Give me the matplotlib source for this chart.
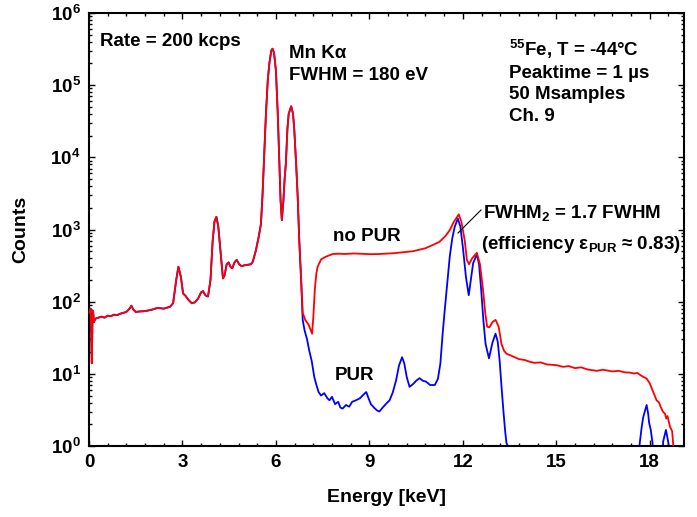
import numpy as np
import matplotlib
matplotlib.use("Agg")
import matplotlib.pyplot as plt
from matplotlib.ticker import MultipleLocator, FixedLocator, NullFormatter, LogFormatterSciNotation
from matplotlib.lines import Line2D

plt.rcParams['font.family'] = ['Liberation Sans', 'DejaVu Sans']
plt.rcParams['font.weight'] = 'bold'
plt.rcParams['mathtext.fontset'] = 'custom'
plt.rcParams['mathtext.rm'] = 'Liberation Sans:bold'
plt.rcParams['mathtext.bf'] = 'Liberation Sans:bold'
plt.rcParams['mathtext.it'] = 'Liberation Sans:bold'
plt.rcParams['mathtext.default'] = 'bf'

# ---- data: shared low-energy part (both spectra identical below ~6.8 keV)
energy_low = [0.03, 0.05, 0.07, 0.09, 0.11, 0.13, 0.16, 0.2, 0.3, 0.4, 0.5, 0.6, 0.7,
              0.8, 0.9, 1.0, 1.1, 1.2, 1.3, 1.36, 1.42, 1.5, 1.6, 1.8, 2.0, 2.2, 2.4,
              2.6, 2.7, 2.8, 2.87, 2.95, 3.02, 3.1, 3.2, 3.3, 3.4, 3.5, 3.6, 3.66,
              3.74, 3.82, 3.9, 3.97, 4.03, 4.09, 4.15, 4.22, 4.3, 4.35, 4.42, 4.48,
              4.55, 4.6, 4.67, 4.74, 4.82, 4.9, 5.0, 5.1, 5.2, 5.26, 5.36, 5.45,
              5.52, 5.57, 5.63, 5.68, 5.74, 5.79, 5.85, 5.89, 5.94, 6.0, 6.06, 6.11,
              6.15, 6.19, 6.24, 6.28, 6.32, 6.37, 6.41, 6.49, 6.55, 6.59, 6.65,
              6.70, 6.75, 6.81]
counts_low = [70, 80, 40, 14, 50, 75, 52, 58, 60, 62, 60, 64, 63,
              66, 65, 68, 70, 72, 80, 88, 78, 72, 73, 74, 77, 82, 80,
              85, 95, 200, 305, 220, 130, 120, 105, 95, 98, 110, 135, 140,
              122, 118, 200, 700, 1300, 1500, 1100, 500, 210, 230, 330, 350,
              300, 290, 350, 380, 330, 310, 320, 325, 330, 360, 520, 800,
              1200, 3000, 12000, 40000, 120000, 200000, 300000, 320000, 280000,
              160000, 40000, 8300, 2500, 1350, 2500, 5000, 8300, 25000, 40000,
              51000, 40000, 24000, 8000, 2800, 700, 200]

# no PUR tail (red)
energy_nopur_tail = [6.86, 6.95, 7.05, 7.12, 7.16, 7.2, 7.25, 7.3, 7.34, 7.45, 7.6,
                     7.82, 8.0, 8.2, 8.5, 8.8, 9.0, 9.3, 9.6, 9.8, 10.1, 10.4, 10.6,
                     10.8, 11.0, 11.25, 11.45, 11.58, 11.7, 11.87, 11.95, 12.06,
                     12.13, 12.2, 12.3, 12.45, 12.55, 12.65, 12.72, 12.78, 12.85,
                     12.95, 13.05, 13.15, 13.24, 13.32, 13.4, 13.6, 13.8, 14.0,
                     14.15, 14.3, 14.5, 14.7, 15.0, 15.22, 15.4, 15.6, 15.8, 16.0,
                     16.3, 16.5, 16.8, 17.0, 17.2, 17.36, 17.5, 17.6, 17.7, 17.79,
                     17.9, 18.0, 18.1, 18.22, 18.3, 18.35, 18.42, 18.49, 18.53,
                     18.57, 18.65, 18.72, 18.75, 18.8]
counts_nopur_tail = [70, 55, 48, 40, 36, 60, 150, 250, 305, 385, 420,
                     457, 462, 458, 465, 460, 455, 457, 465, 470, 485, 500, 525,
                     550, 600, 675, 820, 980, 1250, 1620, 1300, 710,
                     380, 330, 400, 475, 330, 145, 70, 45, 44,
                     52, 56, 45, 26, 21, 19, 17.5, 16, 15.5,
                     14.7, 14.2, 14.4, 13.5, 13.2, 12.5, 12.8, 12.0, 12.3, 11.5,
                     11.0, 11.4, 10.8, 11.0, 10.5, 10.4, 10.1, 10.3, 9.6, 9.1,
                     8.6, 7.4, 5.8, 4.3, 4.0, 3.5, 3.0, 2.8, 2.4,
                     2.6, 1.85, 1.6, 1.1, 0.3]

# PUR tail (blue)
energy_pur_tail = [6.86, 6.92, 7.0, 7.07, 7.15, 7.23, 7.3, 7.37, 7.45, 7.55, 7.65,
                   7.72, 7.8, 7.9, 8.0, 8.07, 8.14, 8.25, 8.35, 8.45, 8.57, 8.7,
                   8.8, 8.9, 8.98, 9.05, 9.15, 9.25, 9.32, 9.45, 9.55, 9.65, 9.75,
                   9.86, 9.95, 10.05, 10.12, 10.2, 10.29, 10.4, 10.5, 10.61, 10.72,
                   10.82, 10.95, 11.1, 11.2, 11.28, 11.35, 11.41, 11.5, 11.58,
                   11.66, 11.74, 11.84, 11.92, 12.0, 12.1, 12.19, 12.27, 12.33,
                   12.45, 12.52, 12.59, 12.66, 12.73, 12.84, 12.95, 13.05, 13.12,
                   13.18, 13.25, 13.31, 13.36, 13.4, 13.45, 13.55, 13.58, 17.6,
                   17.68, 17.74, 17.79, 17.84, 17.9, 17.95, 17.98, 18.03, 18.09,
                   18.12, 18.4, 18.43, 18.52, 18.6, 18.63]
counts_pur_tail = [56, 40, 30, 21, 15, 9.1, 7.0, 5.6, 5.0, 5.4, 4.6,
                   4.3, 4.8, 3.8, 4.1, 3.4, 3.3, 3.7, 3.5, 4.1, 4.3, 4.6,
                   5.1, 5.6, 4.5, 3.8, 3.4, 3.1, 3.0, 3.5, 3.9, 4.3, 5.5,
                   8.2, 13, 17, 14, 9, 6.6, 7.2, 8.0, 8.7, 8.0,
                   7.8, 7.0, 7.0, 8.5, 14, 35, 69, 180, 420,
                   750, 1090, 1420, 1100, 575, 220, 123, 220, 340,
                   455, 330, 145, 55, 26, 16.4, 27, 36, 28,
                   15.5, 6, 2.8, 1.6, 1.1, 1.0, 1.0, 0.3, 0.3,
                   1.1, 1.8, 2.5, 3.0, 3.7, 2.8, 2.1, 1.7, 1.1,
                   0.3, 0.3, 1.15, 1.67, 1.1, 0.3]

energy_nopur = energy_low + energy_nopur_tail
counts_nopur = counts_low + counts_nopur_tail
energy_pur = energy_low + energy_pur_tail
counts_pur = counts_low + counts_pur_tail

y_major = [1e0, 1e1, 1e2, 1e3, 1e4, 1e5, 1e6]

W, H = 697, 517
fig = plt.figure(figsize=(W/100, H/100), dpi=100)
L, R, T, B = 89, 684, 13, 446
ax = fig.add_axes([L/W, 1 - B/H, (R-L)/W, (B-T)/H])

ax.plot(energy_pur, counts_pur, color='#0000ff', lw=1.3, zorder=2)
ax.plot(energy_nopur, counts_nopur, color='#ff0000', lw=1.3, zorder=3)

ax.set_yscale('log')
ax.set_xlim(0, 19.1)
ax.set_ylim(1, 1e6)
ax.xaxis.set_major_locator(MultipleLocator(3))
ax.xaxis.set_minor_locator(MultipleLocator(0.6))
ax.yaxis.set_major_locator(FixedLocator(y_major))
ax.yaxis.set_major_formatter(LogFormatterSciNotation())
minor = [m * d for d in y_major[:-1] for m in range(2, 10)]
ax.yaxis.set_minor_locator(FixedLocator(minor))
ax.yaxis.set_minor_formatter(NullFormatter())
ax.tick_params(which='both', direction='in', top=True, right=True, width=1.0)
ax.tick_params(which='major', length=4, labelsize=13.5, pad=6)
ax.tick_params(which='minor', length=2.5)
for lbl in ax.get_xticklabels() + ax.get_yticklabels():
    lbl.set_fontweight('bold')
for sp in ax.spines.values():
    sp.set_linewidth(1.5)

ax.set_xlabel('Energy [keV]', fontsize=14, fontweight='bold', labelpad=13)
ax.set_ylabel('Counts', fontsize=14, fontweight='bold', labelpad=15)


def px_text(x, y, s, ha='left', va='baseline', fs=13.5):
    ax.text((x - L)/(R - L), (B - y)/(B - T), s, transform=ax.transAxes,
            fontsize=fs, fontweight='bold', ha=ha, va=va)


px_text(100, 46, 'Rate = 200 kcps')
px_text(289, 58, 'Mn Kα')
px_text(289, 80, 'FWHM = 180 eV')
px_text(509, 56, '$^{55}$Fe, T = -44°C')
px_text(509, 78, 'Peaktime = 1 µs')
px_text(509, 99, '50 Msamples')
px_text(509, 121, 'Ch. 9')
px_text(367, 241, 'no PUR', ha='center')
px_text(355, 380, 'PUR', ha='center')
px_text(483, 218, 'FWHM$_2$ = 1.7 FWHM')
px_text(481, 249, '(efficiency ε$_{PUR}$ ≈ 0.83)')

ax.add_line(Line2D([(458 - L)/(R - L), (481 - L)/(R - L)],
                   [(B - 233)/(B - T), (B - 210)/(B - T)],
                   transform=ax.transAxes, color='black', lw=0.8, zorder=4))

fig.savefig('out.png', dpi=100)
